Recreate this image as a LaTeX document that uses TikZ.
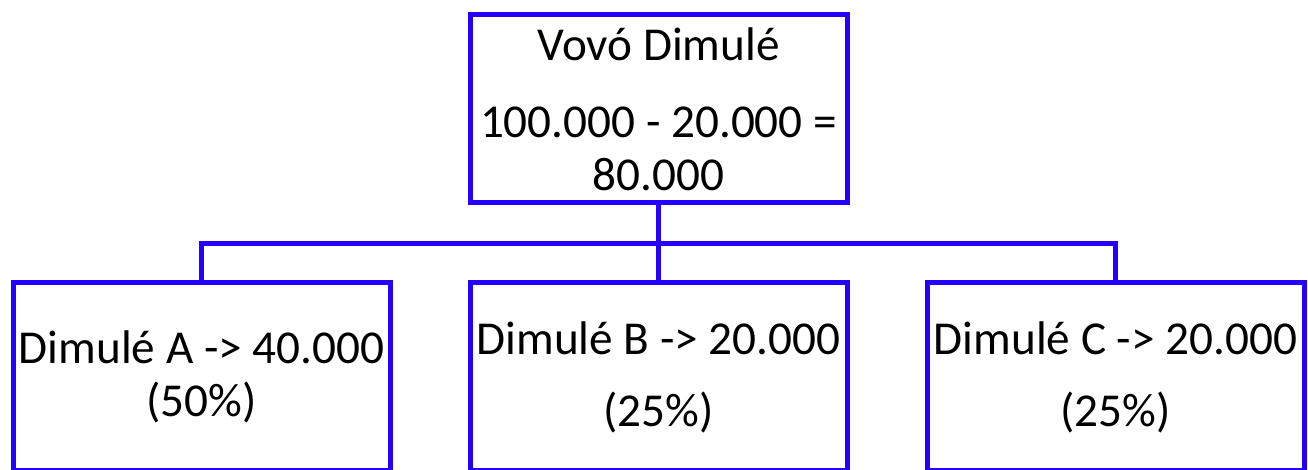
\documentclass[tikz,border=0pt]{standalone}
\usepackage{fontspec}
\setmainfont{Carlito}
\usetikzlibrary{positioning}
\definecolor{treeblue}{RGB}{35,0,255}

\begin{document}
\begin{tikzpicture}[
    x=0.5pt, y=-0.5pt,
    node distance=37.5pt,
    box/.style={draw=treeblue, line width=2.5pt, minimum width=188.5pt,
                minimum height=94pt, align=center, inner sep=0pt,
                font=\fontsize{23.6}{26.5}\selectfont},
    link/.style={draw=treeblue, line width=2.5pt},
]
\useasboundingbox (0,0) rectangle (1308,470);

\node[box] (heir) at (658.5,109) {Vovó Dimulé\\[12pt]100.000 - 20.000 =\\80.000};
\node[box, below=of heir] (sonb) {Dimulé B -> 20.000\\[9.5pt](25\%)};
\node[box, left=of sonb] (sona) {Dimulé A -> 40.000\\(50\%)};
\node[box, right=of sonb] (sonc) {Dimulé C -> 20.000\\[9.5pt](25\%)};

% tree connectors
\coordinate (bus) at (0,244);
\draw[link] (heir.south) -- (heir.south |- bus);
\draw[link] (sona.north) -- (sona.north |- bus) -| (sonc.north);
\draw[link] (sonb.north) -- (sonb.north |- bus);
\end{tikzpicture}
\end{document}
